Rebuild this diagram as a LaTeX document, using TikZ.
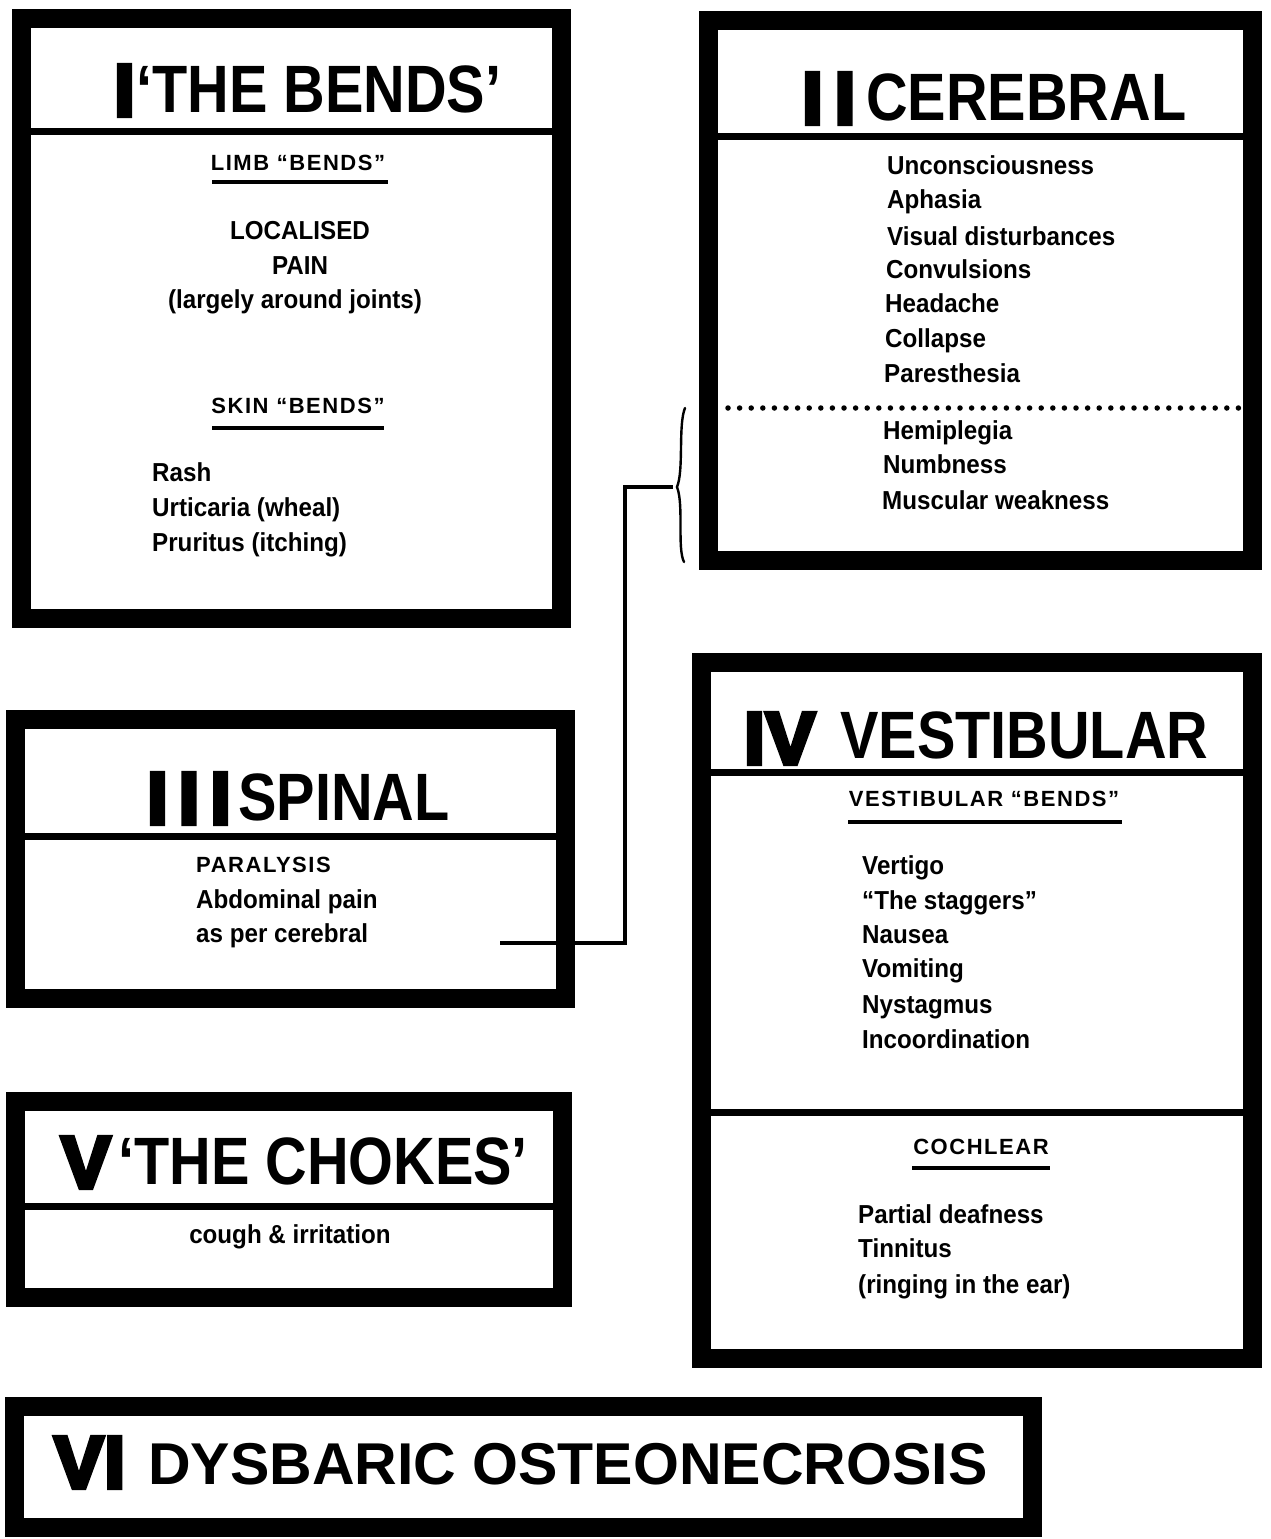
\documentclass[tikz,border=0pt]{standalone}
\usepackage{fontspec}
\setmainfont{Liberation Sans}
\newfontfamily\numfont[FakeBold=6]{Liberation Sans Bold}
\newfontfamily\ttlfont[FakeStretch=0.86]{Liberation Sans Bold}
\newfontfamily\bigfont{Liberation Sans Bold}
\newfontfamily\bodyfont[FakeStretch=0.93]{Liberation Sans Bold}
\newfontfamily\capsfont[LetterSpace=7]{Liberation Sans Bold}
\begin{document}
\begin{tikzpicture}[x=1pt,y=-1pt,
  frame/.style={line width=19pt},
  divider/.style={line width=7pt},
  uline/.style={line width=4pt},
  num/.style={anchor=base west, inner sep=0pt, font=\numfont\fontsize{74}{74}\selectfont},
  ttl/.style={anchor=base west, inner sep=0pt, font=\ttlfont\fontsize{67}{67}\selectfont},
  bigttl/.style={anchor=base west, inner sep=0pt, font=\bigfont\fontsize{59}{59}\selectfont},
  bodyl/.style={anchor=base west, inner sep=0pt, font=\bodyfont\fontsize{26}{30}\selectfont},
  bodyc/.style={anchor=base, inner sep=0pt, font=\bodyfont\fontsize{26}{30}\selectfont},
  capc/.style={anchor=base, inner sep=0pt, font=\capsfont\fontsize{22}{24}\selectfont},
  capl/.style={anchor=base west, inner sep=0pt, font=\capsfont\fontsize{22}{24}\selectfont}]
\useasboundingbox (0,0) rectangle (1270,1539);
\fill[white] (0,0) rectangle (1270,1539);

% ---------- Box I ----------
\draw[frame] (21.5,18.5) rectangle (561.5,618.5);
\draw[divider] (31,131) -- (552,131);
\node[num] (n1) at (114,116) {I};
\node[ttl] (t1) at (136,112) {‘THE BENDS’};
\node[capc] (limb) at (298,170) {LIMB “BENDS”};
\draw[uline] (212,182) -- (388,182);
\node[bodyc] (loc) at (300,239) {LOCALISED};
\node[bodyc] (pain) at (300,274) {PAIN};
\node[bodyc] (joints) at (295,308) {(largely around joints)};
\node[capc] (skin) at (298,413) {SKIN “BENDS”};
\draw[uline] (212,428) -- (384,428);
\node[bodyl] (rash) at (152,481) {Rash};
\node[bodyl] (urt) at (152,516) {Urticaria (wheal)};
\node[bodyl] (prur) at (152,551) {Pruritus (itching)};

% ---------- Box II ----------
\draw[frame] (708.5,20.5) rectangle (1252.5,560.5);
\draw[divider] (718,136) -- (1243,136);
\node[num] (n2) at (802,124) {I\kern12pt I};
\node[ttl] (t2) at (866,120) {CEREBRAL};
\node[bodyl] (c1) at (887,174) {Unconsciousness};
\node[bodyl] (c2) at (887,208) {Aphasia};
\node[bodyl] (c3) at (887,245) {Visual disturbances};
\node[bodyl] (c4) at (886,278) {Convulsions};
\node[bodyl] (c5) at (885,312) {Headache};
\node[bodyl] (c6) at (885,347) {Collapse};
\node[bodyl] (c7) at (884,382) {Paresthesia};
\draw[line width=5.5pt, line cap=round, dash pattern=on 0pt off 11.6pt] (728,408) -- (1243,408);
\node[bodyl] (c8) at (883,439) {Hemiplegia};
\node[bodyl] (c9) at (883,473) {Numbness};
\node[bodyl] (c10) at (882,509) {Muscular weakness};

% ---------- Box III ----------
\draw[frame] (15.5,719.5) rectangle (565.5,998.5);
\draw[divider] (25,836) -- (556,836);
\node[num] (n3) at (147,824) {I\kern11pt I\kern11pt I};
\node[ttl] (t3) at (238,820) {SPINAL};
\node[capl] (par) at (196,872) {PARALYSIS};
\node[bodyl] (abd) at (196,908) {Abdominal pain};
\node[bodyl] (asper) at (196,942) {as per cerebral};

% ---------- Box IV ----------
\draw[frame] (701.5,662.5) rectangle (1252.5,1358.5);
\draw[divider] (711,772) -- (1243,772);
\draw[divider] (711,1112) -- (1243,1112);
\node[num] (n4) at (744,764) {I\kern1pt V};
\node[ttl] (t4) at (840,758) {VESTIBULAR};
\node[capc] (vb) at (984,806) {VESTIBULAR “BENDS”};
\draw[uline] (848,822) -- (1122,822);
\node[bodyl] (v1) at (862,874) {Vertigo};
\node[bodyl] (v2) at (862,909) {“The staggers”};
\node[bodyl] (v3) at (862,943) {Nausea};
\node[bodyl] (v4) at (862,977) {Vomiting};
\node[bodyl] (v5) at (862,1013) {Nystagmus};
\node[bodyl] (v6) at (862,1048) {Incoordination};
\node[capc] (coch) at (981,1154) {COCHLEAR};
\draw[uline] (912,1168) -- (1050,1168);
\node[bodyl] (k1) at (858,1223) {Partial deafness};
\node[bodyl] (k2) at (858,1257) {Tinnitus};
\node[bodyl] (k3) at (858,1293) {(ringing in the ear)};

% ---------- Box V ----------
\draw[frame] (15.5,1101.5) rectangle (562.5,1297.5);
\draw[divider] (25,1206) -- (553,1206);
\node[num] (n5) at (61,1188) {V};
\node[ttl] (t5) at (118,1184) {‘THE CHOKES’};
\node[bodyc] (cough) at (290,1243) {cough \& irritation};

% ---------- Box VI ----------
\draw[frame] (14.5,1406.5) rectangle (1032.5,1527.5);
\node[num] (n6) at (54,1488) {V\kern1pt I};
\node[bigttl] (t6) at (148,1484) {DYSBARIC OSTEONECROSIS};

% ---------- brace and connector ----------
\coordinate (bt) at (677,487);
\coordinate (cend) at (500,943);
\draw[line width=2.4pt, line cap=round] (685,408) .. controls (678,425) and (684,470) .. (bt)
      .. controls (684,505) and (677,548) .. (684,562);
\draw[line width=4.5pt] (bt) ++(-4,0) -- (625,487) |- (cend);
\end{tikzpicture}
\end{document}
